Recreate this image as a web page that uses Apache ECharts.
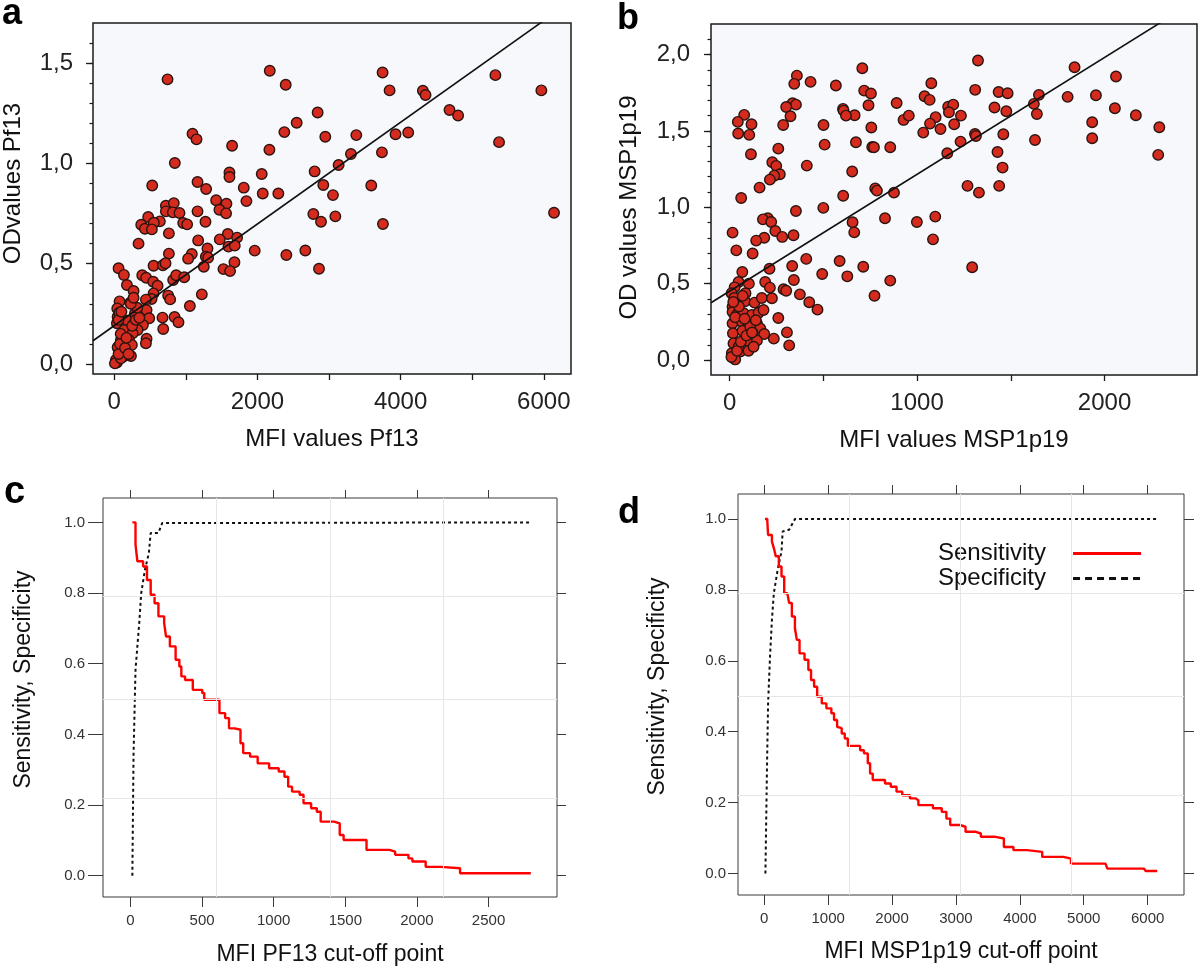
<!DOCTYPE html>
<html><head><meta charset="utf-8">
<script src="https://cdn.jsdelivr.net/npm/echarts@6/dist/echarts.min.js"></script>
<style>html,body{margin:0;padding:0;background:#fff}#c{width:1200px;height:970px}</style>
</head><body><div id="c"></div>
<script>
// ---- Panel a: MFI Pf13 vs OD Pf13 ----
const aMFI=[744,2172,2395,3748,3846,4311,4348,5324,5966,4683,4803,2841,2548,2376,2948,3381,3929,4106,5375,1093,1149,1646,2167,846,3739,3306,3134,2799,2060,1609,1609,530,1163,1283,1809,2074,2292,2920,3055,3590,1846,1423,1567,1469,1562,1163,1274,721,832,721,818,911,963,1018,474,637,553,377,428,525,763,339,2781,2888,3088,3753,6143,1586,1716,1474,1172,1595,1683,1302,1962,2404,2669,2860,763,1083,1032,1279,1311,1679,1251,1525,1618,549,679,716,60,135,177,270,391,446,544,605,549,521,442,223,74,42,47,37,70,186,288,381,451,488,279,400,326,140,256,205,93,246,451,442,112,47,140,233,23,37,9,93,823,865,977,753,781,1223,1056,674,842,897,684,60,80,150,200,90,170,250,300,320,350,60,100,230,270];
const aOD=[1.419,1.462,1.392,1.453,1.364,1.362,1.341,1.440,1.364,1.266,1.239,1.254,1.203,1.156,1.133,1.141,1.145,1.154,1.106,1.148,1.120,1.088,1.068,1.002,1.055,1.047,0.992,0.960,0.947,0.955,0.932,0.890,0.907,0.872,0.879,0.850,0.850,0.892,0.842,0.890,0.812,0.816,0.799,0.769,0.751,0.761,0.709,0.789,0.802,0.761,0.756,0.753,0.703,0.696,0.733,0.711,0.704,0.694,0.674,0.671,0.651,0.600,0.748,0.709,0.736,0.698,0.754,0.648,0.630,0.621,0.616,0.585,0.590,0.576,0.565,0.543,0.566,0.475,0.550,0.548,0.525,0.535,0.530,0.507,0.485,0.473,0.463,0.490,0.492,0.502,0.477,0.444,0.394,0.364,0.442,0.430,0.410,0.390,0.352,0.324,0.321,0.306,0.312,0.277,0.236,0.203,0.256,0.216,0.252,0.257,0.269,0.228,0.203,0.194,0.169,0.169,0.153,0.120,0.120,0.095,0.126,0.103,0.066,0.083,0.040,0.040,0.020,0.007,0.003,0.028,0.419,0.442,0.432,0.341,0.322,0.347,0.289,0.231,0.234,0.208,0.174,0.05,0.10,0.08,0.05,0.15,0.13,0.19,0.22,0.28,0.23,0.22,0.26,0.30,0.33];
const aReg=[0.0002535,0.191]; // slope, intercept
const aXTicks=[0,1000,2000,3000,4000,5000,6000];
const aXLabels=[0,2000,4000,6000];
const aYMinor=[0,0.1,0.2,0.3,0.4,0.5,0.6,0.7,0.8,0.9,1.0,1.1,1.2,1.3,1.4,1.5,1.6];
const aYMajor=[0,0.5,1.0,1.5];

// ---- Panel b: MFI MSP1p19 vs OD MSP1p19 ----
const bMFI=[1325,708,1840,2061,359,345,432,567,1076,718,754,1310,1435,1483,1650,1803,1954,1040,1067,891,741,336,354,302,605,608,667,621,325,286,78,44,117,46,105,114,501,507,756,761,770,857,674,1166,1193,1170,1234,1099,1069,1125,928,956,1198,1033,1232,1309,1314,1413,1476,1460,1623,1639,1629,1934,1934,2055,2167,2292,2286,1161,1429,1456,1438,1269,1330,260,228,249,268,238,215,412,654,160,62,777,786,877,606,500,354,204,178,222,829,656,999,1097,665,1085,16,244,281,341,185,142,36,123,409,587,334,713,1294,213,68,494,628,343,857,48,103,190,215,288,302,27,11,25,85,82,133,172,226,375,425,469,773,16,16,39,75,119,155,181,260,16,66,101,146,164,185,18,69,124,306,236,318,21,101,146,57,101,12,18,30,128,48,10,40,60,90,110,30,50,80,120,140,20,70];
const bOD=[1.961,1.910,1.917,1.856,1.862,1.808,1.821,1.797,1.812,1.764,1.745,1.769,1.755,1.747,1.736,1.723,1.734,1.727,1.703,1.683,1.668,1.681,1.672,1.657,1.644,1.633,1.603,1.600,1.596,1.539,1.605,1.559,1.544,1.483,1.474,1.347,1.539,1.410,1.522,1.395,1.393,1.393,1.426,1.659,1.672,1.622,1.600,1.590,1.548,1.513,1.572,1.600,1.544,1.489,1.430,1.480,1.467,1.653,1.629,1.478,1.677,1.611,1.441,1.557,1.452,1.648,1.603,1.524,1.343,1.354,1.362,1.260,1.140,1.140,1.096,1.384,1.295,1.271,1.216,1.207,1.181,1.273,1.234,1.129,1.061,1.124,1.109,1.096,1.076,0.996,0.976,0.928,0.921,0.904,0.928,0.902,0.904,0.939,0.836,0.790,0.834,0.845,0.806,0.817,0.801,0.782,0.718,0.697,0.662,0.648,0.616,0.611,0.607,0.598,0.576,0.563,0.548,0.524,0.520,0.511,0.500,0.511,0.474,0.463,0.454,0.476,0.437,0.406,0.437,0.384,0.376,0.406,0.404,0.430,0.378,0.330,0.421,0.349,0.314,0.295,0.306,0.295,0.310,0.328,0.275,0.240,0.251,0.229,0.240,0.207,0.170,0.175,0.192,0.175,0.181,0.140,0.096,0.109,0.120,0.127,0.055,0.061,0.044,0.017,0.004,0.087,0.087,0.02,0.06,0.12,0.16,0.22,0.28,0.35,0.27,0.18,0.26,0.38,0.42];
const bReg=[0.000765,0.451];
const bXTicks=[0,500,1000,1500,2000];
const bXLabels=[0,1000,2000];
const bYMinor=[0,0.1,0.2,0.3,0.4,0.5,0.6,0.7,0.8,0.9,1.0,1.1,1.2,1.3,1.4,1.5,1.6,1.7,1.8,1.9,2.0,2.1];
const bYMajor=[0,0.5,1.0,1.5,2.0];

// ---- Panel c: PF13 cut-off ----
const cSensCut=[13,35,48,88,115,141,168,195,235,248,275,315,341,355,381,435,501,515,595,621,661,688,728,768,787,835,888,968,1035,1075,1101,1128,1181,1208,1261,1301,1328,1421,1461,1488,1621,1648,1808,1848,1941,1968,2061,2168,2301,2795];
const cSens=[1.0,0.937,0.890,0.875,0.837,0.795,0.771,0.734,0.715,0.677,0.649,0.611,0.592,0.564,0.554,0.526,0.517,0.498,0.498,0.460,0.446,0.417,0.413,0.375,0.347,0.337,0.318,0.304,0.295,0.280,0.252,0.238,0.229,0.205,0.191,0.181,0.153,0.148,0.115,0.101,0.101,0.073,0.068,0.059,0.049,0.040,0.025,0.021,0.007,0.007];
const cSpecCut=[13,21,35,61,75,101,128,141,195,221,2795];
const cSpec=[0,0.337,0.583,0.715,0.800,0.866,0.913,0.970,0.970,0.998,1.0];
const cXTicks=[0,500,1000,1500,2000,2500];
const cGridX=[600,1395,2186];
const cGridY=[0.786,0.502,0.220];

// ---- Panel d: MSP1p19 cut-off ----
const dSensCut=[12,48,60,120,150,180,228,270,312,360,390,432,480,510,552,630,690,732,780,828,900,972,1050,1092,1140,1170,1212,1260,1308,1440,1500,1560,1620,1656,1698,1830,1890,1980,2070,2160,2280,2370,2412,2550,2640,2778,2850,2910,3060,3150,3300,3390,3600,3750,3900,4110,4350,4680,4800,5340,5370,5940,5970,6150];
const dSens=[1.0,0.993,0.955,0.936,0.918,0.895,0.866,0.838,0.791,0.791,0.763,0.725,0.692,0.659,0.621,0.603,0.574,0.546,0.527,0.499,0.480,0.466,0.452,0.433,0.414,0.410,0.395,0.381,0.360,0.360,0.348,0.339,0.311,0.282,0.264,0.264,0.254,0.245,0.231,0.221,0.212,0.207,0.193,0.193,0.184,0.174,0.155,0.137,0.132,0.118,0.113,0.104,0.099,0.075,0.066,0.061,0.047,0.042,0.028,0.028,0.014,0.014,0.007,0.007];
const dSpecCut=[18,42,60,90,120,150,210,270,288,390,480,6150];
const dSpec=[0,0.292,0.480,0.612,0.716,0.791,0.857,0.909,0.965,0.970,1.0,1.0];
const dXTicks=[0,1000,2000,3000,4000,5000,6000];
const dGridX=[1329,3071,4807];
const dGridY=[0.789,0.503,0.221];
const sYTicks=[0,0.2,0.4,0.6,0.8,1.0];

const FONT='Liberation Sans, Arial, sans-serif';
const zip=(xs,ys)=>xs.map((x,i)=>[x,ys[i]]);
const comma=v=>v.toFixed(1).replace('.',',');
const plain=v=>String(Math.round(v));
const regLine=(r,x0,x1)=>[[x0,r[1]+r[0]*x0],[x1,r[1]+r[0]*x1]];

const ext={aX:[-297,6380],aY:[-0.05,1.70],bX:[-99,2493],bY:[-0.098,2.20],
  cX:[-192,2978],cY:[-0.0603,1.069],dX:[-411,6569],dY:[-0.0605,1.0706]};

const frameAB={show:true,backgroundColor:'#f6f8fb',borderColor:'#1a1a1a',borderWidth:1.5};
const frameCD={show:true,backgroundColor:'#fff',borderColor:'#3a3a3a',borderWidth:1};

function xMain(gi,e,ticks,labels,name,opt){
  return Object.assign({gridIndex:gi,type:'value',min:e[0],max:e[1],position:'bottom',
    axisLine:{show:false,onZero:false},
    axisTick:{show:true,customValues:ticks,length:opt.tl,lineStyle:{color:opt.lc,width:opt.tw}},
    axisLabel:{customValues:labels,fontSize:opt.fs,color:opt.tc,margin:opt.lm,fontFamily:FONT,formatter:plain},
    splitLine:{show:false},name:name,nameLocation:'middle',nameGap:opt.ng,
    nameTextStyle:{fontSize:opt.nfs,color:'#111',fontFamily:FONT}},opt.extra||{});
}
function yAxisDef(gi,e,ticks,labels,name,opt){
  return {gridIndex:gi,type:'value',min:e[0],max:e[1],position:opt.pos||'left',
    axisLine:{show:false,onZero:false},
    axisTick:{show:true,customValues:ticks,length:opt.tl,lineStyle:{color:opt.lc,width:opt.tw}},
    axisLabel:labels?{customValues:labels,fontSize:opt.fs,color:opt.tc,margin:opt.lm,fontFamily:FONT,formatter:opt.fmt}:{show:false},
    splitLine:{show:false},name:name||'',nameLocation:'middle',nameGap:opt.ng||0,
    nameTextStyle:{fontSize:opt.nfs||23,color:'#111',fontFamily:FONT,padding:opt.np||0}};
}

const abStyle={tl:6,lc:'#1a1a1a',tw:1.3,fs:24,tc:'#222',lm:16,ng:53,nfs:24};
const cdStyle={tl:10,lc:'#3a3a3a',tw:1,fs:15,tc:'#333',lm:16,ng:46,nfs:23};

const option={
  animation:false,
  grid:[
    Object.assign({left:92,top:23,width:479,height:351},frameAB),
    Object.assign({left:711,top:24,width:486,height:351},frameAB),
    Object.assign({left:103,top:498,width:454,height:399},frameCD),
    Object.assign({left:738,top:494,width:446,height:401},frameCD)
  ],
  xAxis:[
    xMain(0,ext.aX,aXTicks,aXLabels,'MFI values Pf13',abStyle),
    xMain(1,ext.bX,bXTicks,bXLabels,'MFI values MSP1p19',abStyle),
    xMain(2,ext.cX,cXTicks,cXTicks,'MFI PF13 cut-off point',cdStyle),
    xMain(2,ext.cX,cXTicks,[],'',Object.assign({},cdStyle,{tl:8,extra:{position:'top',axisLabel:{show:false}}})),
    xMain(3,ext.dX,dXTicks,dXTicks,'MFI MSP1p19 cut-off point',Object.assign({},cdStyle,{ng:45})),
    xMain(3,ext.dX,dXTicks,[],'',Object.assign({},cdStyle,{tl:9,extra:{position:'top',axisLabel:{show:false}}}))
  ],
  yAxis:[
    yAxisDef(0,ext.aY,aYMinor,null,'',{tl:3.5,lc:'#1a1a1a',tw:1.2}),
    yAxisDef(0,ext.aY,aYMajor,aYMajor,'ODvalues Pf13',{tl:7,lc:'#1a1a1a',tw:1.3,fs:24,tc:'#222',lm:20,fmt:comma,ng:68,nfs:24,np:[0,0,0,30]}),
    yAxisDef(1,ext.bY,bYMinor,null,'',{tl:3.5,lc:'#1a1a1a',tw:1.2}),
    yAxisDef(1,ext.bY,bYMajor,bYMajor,'OD values MSP1p19',{tl:7,lc:'#1a1a1a',tw:1.3,fs:24,tc:'#222',lm:21,fmt:comma,ng:70,nfs:24,np:[0,16,0,0]}),
    yAxisDef(2,ext.cY,sYTicks,sYTicks,'Sensitivity, Specificity',{tl:15,lc:'#3a3a3a',tw:1,fs:15,tc:'#333',lm:18,fmt:v=>v.toFixed(1),ng:68,nfs:23,np:[0,0,0,36]}),
    yAxisDef(2,ext.cY,sYTicks,null,'',{pos:'right',tl:9,lc:'#3a3a3a',tw:1}),
    yAxisDef(3,ext.dY,sYTicks,sYTicks,'Sensitivity, Specificity',{tl:10,lc:'#3a3a3a',tw:1,fs:15,tc:'#333',lm:12,fmt:v=>v.toFixed(1),ng:69,nfs:23,np:[0,0,0,16]}),
    yAxisDef(3,ext.dY,sYTicks,null,'',{pos:'right',tl:10,lc:'#3a3a3a',tw:1})
  ],
  legend:{
    data:[{name:'Sensitivity',lineStyle:{width:3.2}},{name:'Specificity',lineStyle:{type:[7,5],width:2.8}}],
    orient:'vertical',left:932,top:535,align:'right',itemWidth:68,itemHeight:14,itemGap:0,
    itemStyle:{opacity:0,color:'transparent',borderWidth:0},
    backgroundColor:'#fff',padding:[6,20,14,6],selectedMode:false,
    textStyle:{fontSize:24,color:'#111',fontFamily:FONT,lineHeight:25,padding:[0,22,0,0]}
  },
  graphic:[
    {type:'text',left:2,top:-4,style:{text:'a',font:'bold 36px '+FONT,fill:'#000'}},
    {type:'text',left:617,top:1,style:{text:'b',font:'bold 36px '+FONT,fill:'#000'}},
    {type:'text',left:4,top:474,style:{text:'c',font:'bold 38px '+FONT,fill:'#000'}},
    {type:'text',left:618,top:495,style:{text:'d',font:'bold 36px '+FONT,fill:'#000'}}
  ],
  series:[
    {type:'scatter',xAxisIndex:0,yAxisIndex:1,data:zip(aMFI,aOD),symbolSize:10.5,z:2,
      itemStyle:{color:'#d42b1e',borderColor:'#2b1410',borderWidth:1.4,opacity:1}},
    {type:'line',xAxisIndex:0,yAxisIndex:1,data:regLine(aReg,ext.aX[0],ext.aX[1]),symbol:'none',clip:true,z:3,
      lineStyle:{color:'#111',width:1.6}},
    {type:'scatter',xAxisIndex:1,yAxisIndex:3,data:zip(bMFI,bOD),symbolSize:10.5,z:2,
      itemStyle:{color:'#d42b1e',borderColor:'#2b1410',borderWidth:1.4,opacity:1}},
    {type:'line',xAxisIndex:1,yAxisIndex:3,data:regLine(bReg,ext.bX[0],ext.bX[1]),symbol:'none',clip:true,z:3,
      lineStyle:{color:'#111',width:1.6}},
    {type:'line',name:'gc',xAxisIndex:2,yAxisIndex:4,data:[],z:1,
      markLine:{silent:true,symbol:['none','none'],label:{show:false},animation:false,
        lineStyle:{color:'#e6e6e6',type:'solid',width:1},
        data:cGridX.map(v=>({xAxis:v})).concat(cGridY.map(v=>({yAxis:v})))}},
    {type:'line',name:'Specificity',xAxisIndex:2,yAxisIndex:4,data:zip(cSpecCut,cSpec),symbol:'none',z:3,
      color:'#111',lineStyle:{color:'#111',width:2,type:[3,3]}},
    {type:'line',name:'Sensitivity',xAxisIndex:2,yAxisIndex:4,data:zip(cSensCut,cSens),step:'end',symbol:'none',z:4,
      color:'#ff0000',lineStyle:{color:'#ff0000',width:2.4}},
    {type:'line',name:'gd',xAxisIndex:4,yAxisIndex:6,data:[],z:1,
      markLine:{silent:true,symbol:['none','none'],label:{show:false},animation:false,
        lineStyle:{color:'#e6e6e6',type:'solid',width:1},
        data:dGridX.map(v=>({xAxis:v})).concat(dGridY.map(v=>({yAxis:v})))}},
    {type:'line',name:'Specificity',xAxisIndex:4,yAxisIndex:6,data:zip(dSpecCut,dSpec),symbol:'none',z:3,
      color:'#111',lineStyle:{color:'#111',width:2,type:[3,3]}},
    {type:'line',name:'Sensitivity',xAxisIndex:4,yAxisIndex:6,data:zip(dSensCut,dSens),step:'end',symbol:'none',z:4,
      color:'#ff0000',lineStyle:{color:'#ff0000',width:2.4}}
  ]
};
const chart=echarts.init(document.getElementById('c'),null,{renderer:'canvas'});
chart.setOption(option);
</script></body></html>
